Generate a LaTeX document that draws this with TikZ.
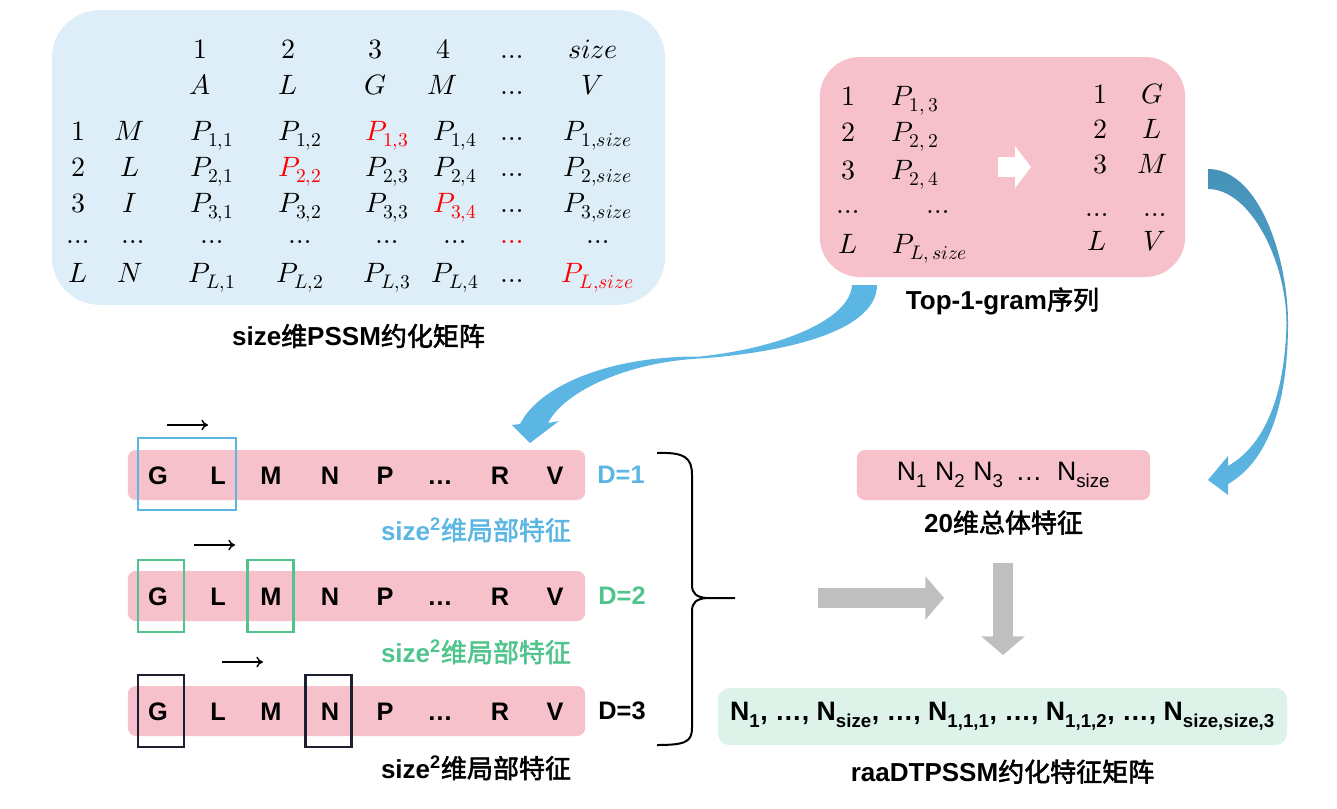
\documentclass[tikz,border=0pt]{standalone}
\usepackage{unicode-math}
\setsansfont{Liberation Sans}
\newfontfamily\zhfont{Noto Sans CJK SC}[AutoFakeBold=2.2]
\newcommand\zh[1]{{\zhfont #1}}
\usetikzlibrary{positioning,arrows.meta}

\definecolor{matblue}{RGB}{222,238,248}
\definecolor{seqpink}{RGB}{246,193,202}
\definecolor{featgreen}{RGB}{221,242,233}
\definecolor{arrblue}{RGB}{92,182,228}
\definecolor{arrdark}{RGB}{70,146,185}
\definecolor{wingreen}{RGB}{80,196,140}
\definecolor{windark}{RGB}{28,32,48}
\definecolor{flowgray}{RGB}{191,191,191}

\begin{document}
\begin{tikzpicture}[x=0.75pt, y=-0.75pt,
  mtx/.style={inner sep=0pt, anchor=base, font=\fontsize{21}{24}\selectfont},
  panel/.style={rounded corners=36pt, inner sep=0pt},
  seqbar/.style={fill=seqpink, rounded corners=6pt, minimum width=343pt, minimum height=37.5pt, inner sep=0pt},
  aa/.style={inner sep=0pt, anchor=base, font=\sffamily\bfseries\fontsize{19}{21}\selectfont},
  win/.style={draw, line width=1.6pt, minimum width=34.5pt, minimum height=54pt, inner sep=0pt},
  dlab/.style={inner sep=0pt, font=\sffamily\bfseries\fontsize{19}{21}\selectfont},
  caption/.style={inner sep=0pt, font=\sffamily\bfseries\fontsize{19.5}{22}\selectfont},
  slide/.style={-{To[length=5pt,width=8pt]}, line width=1.1pt},
  flow/.style={line width=15pt, flowgray, -{Triangle[length=14pt,width=32pt]}}
]
\useasboundingbox (0,0) rectangle (1337,808);

\node[panel, fill=matblue, minimum width=460pt, minimum height=221pt] (pssm) at (358.5,157.5) {};
\foreach \x/\t [count=\i] in {200/1,288/2,375/3,443/4,512/\ldots,593/size}
  \node[mtx] (hn\i) at (\x,58) {$\t$};
\foreach \x/\t [count=\i] in {200/A,288/L,375/G,443/M,512/\ldots,593/V}
  \node[mtx] (ha\i) at (\x,94) {$\t$};
\foreach \r/\a/\y/\hot/\sc in {1/M/140/3/black,2/L/176/2/black,3/I/212/4/black,L/N/282/0/red} {
  \node[mtx] (rn\r) at (78,\y) {$\r$};
  \node[mtx] (ra\r) at (130,\y) {$\a$};
  \foreach \c/\x in {1/212,2/300,3/387,4/455} {
    \ifnum\c=\hot\relax\def\pc{red}\else\def\pc{black}\fi
    \node[mtx, text=\pc] (p\r\c) at (\x,\y) {$P_{\r,\c}$};
  }
  \node[mtx] (pd\r) at (512,\y) {$\ldots$};
  \node[mtx, text=\sc] (ps\r) at (598,\y) {$P_{\r,size}$};
}
\foreach \x [count=\i] in {78,133,212,300,387,455,598}
  \node[mtx] (dd\i) at (\x,243) {$\ldots$};
\node[mtx, text=red] (ddr) at (512,243) {$\ldots$};
\node[caption, below=14pt of pssm] (pssmcap) {size\zh{维}PSSM\zh{约化矩阵}};

\node[panel, fill=seqpink, rounded corners=30pt, minimum width=274pt, minimum height=165pt] (top1) at (1002.5,167) {};
\foreach \n/\p/\y in {1/{P_{1,\,3}}/105,2/{P_{2,\,2}}/141,3/{P_{2,\,4}}/179} {
  \node[mtx] (tn\n) at (848,\y) {$\n$};
  \node[mtx] (tp\n) at (915,\y) {$\p$};
}
\node[mtx] (tdn) at (848,213) {$\ldots$};
\node[mtx] (tdp) at (938,213) {$\ldots$};
\node[mtx] (tnL) at (848,253) {$L$};
\node[mtx] (tpL) at (930,253) {$P_{L,\,size}$};
\foreach \n/\a/\y in {1/G/103,2/L/138,3/M/173} {
  \node[mtx] (gn\n) at (1100,\y) {$\n$};
  \node[mtx] (ga\n) at (1152,\y) {$\a$};
}
\node[mtx] (gdn) at (1097,216) {$\ldots$};
\node[mtx] (gda) at (1155,216) {$\ldots$};
\node[mtx] (gnL) at (1097,250) {$L$};
\node[mtx] (gaL) at (1155,250) {$V$};
\coordinate (wa) at (998,167);
\coordinate (wb) at (1031,167);
\draw[white, line width=15pt, -{Triangle[length=12pt,width=31pt]}] (wa) -- (wb);
\node[caption, below=7.5pt of top1] (top1cap) {Top-1-gram\zh{序列}};

\fill[arrblue] (852,285) -- (877,285) .. controls (877,330) and (790,352) .. (700,358.5)
  .. controls (630,362) and (565,390) .. (548,423) -- (559,421) -- (530,443) -- (512,425) -- (520,424)
  .. controls (540,385) and (610,356) .. (700,356.5) .. controls (780,348) and (850,320) .. (852,285) -- cycle;
\shade[top color=arrdark, bottom color=arrblue] (1208,169) .. controls (1260,169) and (1288,260) .. (1288,323)
  .. controls (1288,400) and (1270,460) .. (1228,484) -- (1228,495) -- (1208,480) -- (1228,456) -- (1228,466)
  .. controls (1265,445) and (1285,395) .. (1286.5,323) .. controls (1286,260) and (1250,189) .. (1208,189) -- cycle;

\foreach \k/\y in {1/475,2/596,3/711} {
  \node[seqbar] (bar\k) at (356.5,\y) {};
  \foreach \t/\x [count=\i] in {G/158,L/218,M/271,N/330,P/385,\ldots/440,R/500,V/555}
    \node[aa] (s\k\i) at (\x,\y+9) {\t};
}
\node[win, draw=arrblue, minimum width=73.5pt] (w1) at (187,474) {};
\node[win, draw=wingreen] (w2a) at (161,596) {};
\node[win, draw=wingreen] (w2b) at (270.5,596) {};
\node[win, draw=windark] (w3a) at (161,711) {};
\node[win, draw=windark] (w3b) at (328.5,711) {};
\coordinate (m1a) at (167,425);
\coordinate (m1b) at (208,425);
\coordinate (m2a) at (194,545);
\coordinate (m2b) at (235,545);
\coordinate (m3a) at (222,662);
\coordinate (m3b) at (263,662);
\draw[slide] (m1a) -- (m1b);
\draw[slide] (m2a) -- (m2b);
\draw[slide] (m3a) -- (m3b);

\node[dlab, text=arrblue] (d1) at (621,475) {D=1};
\node[dlab, text=wingreen] (d2) at (622,596) {D=2};
\node[dlab, text=black] (d3) at (622,711) {D=3};
\node[caption, text=arrblue] (loc1) at (476,530) {size\textsuperscript{2}\zh{维局部特征}};
\node[caption, text=wingreen] (loc2) at (476,652) {size\textsuperscript{2}\zh{维局部特征}};
\node[caption, text=black] (loc3) at (476,768) {size\textsuperscript{2}\zh{维局部特征}};

\draw[line width=1.5pt] (657,453) .. controls (685,452) and (692,458) .. (692,475) -- (692,585)
  .. controls (692,594) and (697,597) .. (706,598) -- (735,598)
  (706,598) .. controls (697,599) and (692,602) .. (692,611) -- (692,728)
  .. controls (692,742) and (685,745) .. (657,745);

\node[seqbar, minimum width=220pt, font=\sffamily\fontsize{20}{22}\selectfont] (nbox) at (1003.5,475)
  {N\textsubscript{1}\hspace{6pt}N\textsubscript{2}\hspace{6pt}N\textsubscript{3}\hspace{9pt}\ldots\hspace{11pt}N\textsubscript{size}};
\node[caption, below=7.5pt of nbox] (nboxcap) {20\zh{维总体特征}};

\coordinate (g1a) at (818,598);
\coordinate (g1b) at (944,598);
\coordinate (g2a) at (1003,563);
\coordinate (g2b) at (1003,655);
\draw[flow] (g1a) -- (g1b);
\draw[flow] (g2a) -- (g2b);

\node[fill=featgreen, rounded corners=9pt, minimum width=427pt, minimum height=43pt, inner sep=0pt,
  font=\sffamily\bfseries\fontsize{20}{22}\selectfont] (feat) at (1002.5,716.5)
  {N\textsubscript{1}, \ldots, N\textsubscript{size}, \ldots, N\textsubscript{1,1,1}, \ldots, N\textsubscript{1,1,2}, \ldots, N\textsubscript{size,size,3}};
\node[caption, below=10.5pt of feat] (featcap) {raaDTPSSM\zh{约化特征矩阵}};
\end{tikzpicture}
\end{document}
